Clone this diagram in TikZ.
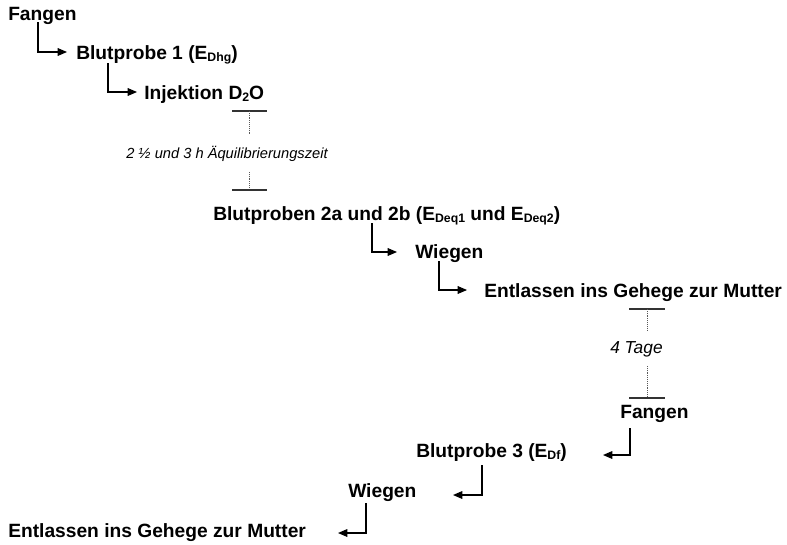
\documentclass[tikz,border=0pt]{standalone}
\usepackage{fontspec}
\setmainfont{Liberation Sans}
\usetikzlibrary{arrows.meta,calc}
\newcommand\lowsub[1]{\raisebox{-0.28ex}{\fontsize{9.2}{10}\selectfont #1}}
\begin{document}
\begin{tikzpicture}[x=0.75pt,y=-0.75pt,
  lbl/.style={anchor=base west,inner sep=0,font=\fontsize{14.4}{17}\selectfont\bfseries},
  note/.style={anchor=base west,inner sep=0,font=\fontsize{11}{13}\selectfont\itshape},
  bignote/.style={anchor=base west,inner sep=0,font=\fontsize{13}{15}\selectfont\itshape},
  arr/.style={line width=0.8pt,-{Triangle[length=7pt,width=5.8pt]}},
  bar/.style={line width=1.2pt,draw=black!80},
  dots/.style={line width=0.6pt,draw=black!65,dash pattern=on 0.6pt off 0.8pt}]
\useasboundingbox (0,0) rectangle (787,544);
% labels
\node[lbl] (f1) at (8,20) {Fangen};
\node[lbl] (bp1) at (76,59) {Blutprobe 1 (E\lowsub{Dhg})};
\node[lbl] (inj) at (144,99) {Injektion D\lowsub{2}O};
\node[note] (eq) at (126,158) {2 ½ und 3 h Äquilibrierungszeit};
\node[lbl] (bp2) at (213,220) {Blutproben 2a und 2b (E\lowsub{Deq1} und E\lowsub{Deq2})};
\node[lbl] (w1) at (415,258) {Wiegen};
\node[lbl] (ent1) at (484,297) {Entlassen ins Gehege zur Mutter};
\node[bignote] (tage) at (610,353) {4 Tage};
\node[lbl] (f2) at (620,418) {Fangen};
\node[lbl] (bp3) at (416,457) {Blutprobe 3 (E\lowsub{Df})};
\node[lbl] (w2) at (348,497) {Wiegen};
\node[lbl] (ent2) at (8,537) {Entlassen ins Gehege zur Mutter};
% right-going connectors
\draw[arr] ($(f1.base west)+(30,2)$) |- ($(bp1.base west)+(-9,-7)$);
\draw[arr] ($(bp1.base west)+(32,4)$) |- ($(inj.base west)+(-7,-7)$);
\draw[arr] ($(bp2.base west)+(159,3)$) |- ($(w1.base west)+(-18,-6)$);
\draw[arr] ($(w1.base west)+(24,3)$) |- ($(ent1.base west)+(-17,-7)$);
% left-going connectors
\draw[arr] ($(f2.base west)+(10,10)$) |- ($(bp3.base west)+(187,-2)$);
\draw[arr] ($(bp3.base west)+(66,8)$) |- ($(w2.base west)+(105,-2)$);
\draw[arr] ($(w2.base west)+(18,6)$) |- ($(ent2.base west)+(330,-4)$);
% time spans
\coordinate (s1a) at (249,111);
\coordinate (s1b) at (249,135);
\coordinate (s1c) at (249,172);
\coordinate (s1d) at (249,190);
\draw[bar] ($(s1a)+(-17,0)$) -- ($(s1a)+(18,0)$);
\draw[dots] (s1a) -- (s1b);
\draw[dots] (s1c) -- (s1d);
\draw[bar] ($(s1d)+(-17,0)$) -- ($(s1d)+(18,0)$);
\coordinate (s2a) at (647,309);
\coordinate (s2b) at (647,330);
\coordinate (s2c) at (647,366);
\coordinate (s2d) at (647,398);
\draw[bar] ($(s2a)+(-18,0)$) -- ($(s2a)+(18,0)$);
\draw[dots] (s2a) -- (s2b);
\draw[dots] (s2c) -- (s2d);
\draw[bar] ($(s2d)+(-18,0)$) -- ($(s2d)+(18,0)$);
\end{tikzpicture}
\end{document}
